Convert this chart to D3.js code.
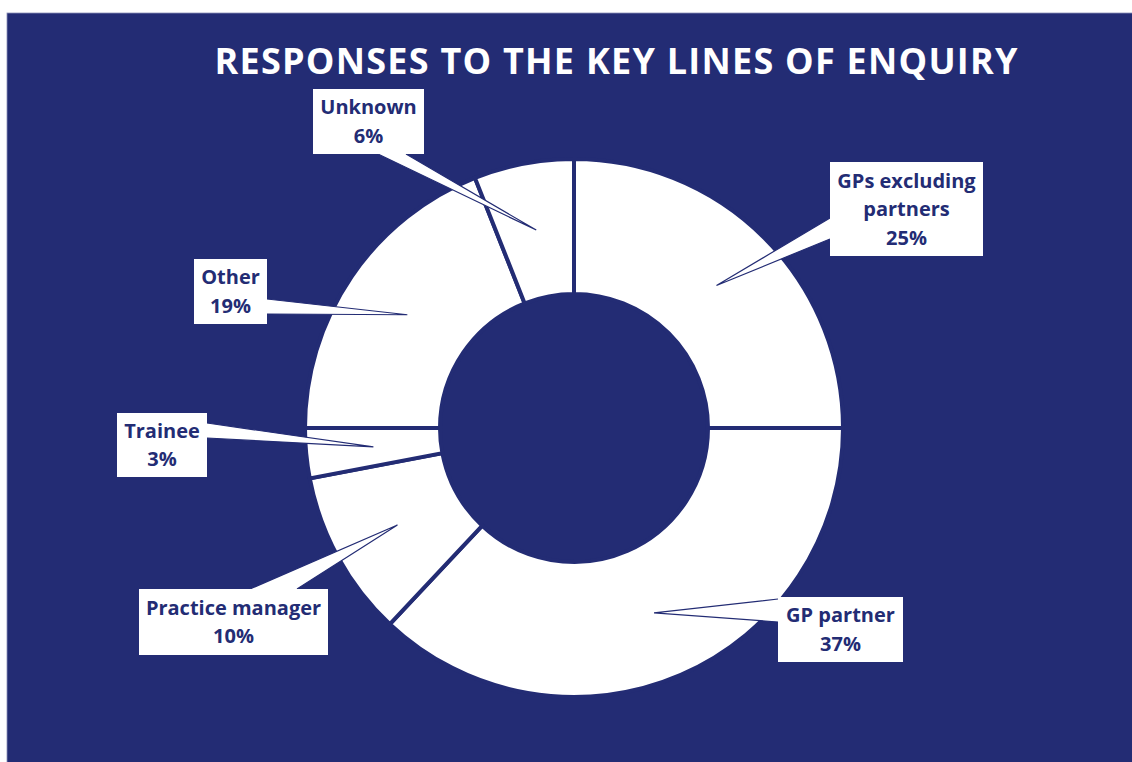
<!DOCTYPE html>
<html>
<head>
<meta charset="utf-8">
<script src="https://cdn.jsdelivr.net/npm/d3@7"></script>
<style>
  html, body { margin: 0; padding: 0; background: #ffffff; }
  svg { display: block; }
</style>
</head>
<body>
<svg id="chart" width="1132" height="762"></svg>
<script>
// ---- data ----
const title = "RESPONSES TO THE KEY LINES OF ENQUIRY";
const categories = ["GPs excluding partners", "GP partner", "Practice manager", "Trainee", "Other", "Unknown"];
const values = [25, 37, 10, 3, 19, 6];
const valueLabels = ["25%", "37%", "10%", "3%", "19%", "6%"];

// ---- layout (callout boxes; positions only) ----
const calloutBoxes = [
  { x: 830, y: 162, w: 153, h: 94, side: "left",   b0: 218, b1: 239 },
  { x: 778, y: 597, w: 125, h: 65, side: "left",   b0: 599, b1: 622 },
  { x: 139, y: 589, w: 189, h: 66, side: "top",    b0: 250, b1: 297 },
  { x: 117, y: 413, w: 90,  h: 64, side: "right",  b0: 423, b1: 438 },
  { x: 194, y: 259, w: 73,  h: 65, side: "right",  b0: 299, b1: 314 },
  { x: 313, y: 89,  w: 111, h: 65, side: "bottom", b0: 378, b1: 406 }
];

const navy = "#232c74";
const W = 1132, H = 762;
const cx = 574, cy = 428;
const rOuter = 269, rInner = 134;

const svg = d3.select("#chart");

// background panel
svg.append("rect").attr("x", 7).attr("y", 13).attr("width", W).attr("height", H)
  .attr("fill", navy).attr("stroke", "#8a90b8").attr("stroke-width", 0.8);

// title
svg.append("text")
  .attr("x", 616).attr("y", 74)
  .attr("text-anchor", "middle")
  .attr("font-family", "'Open Sans', sans-serif")
  .attr("font-weight", 700)
  .attr("font-size", 36)
  .attr("fill", "#ffffff")
  .attr("textLength", 803)
  .attr("lengthAdjust", "spacing")
  .text(title);

const data = categories.map((c, i) => ({ name: c, value: values[i], label: valueLabels[i], box: calloutBoxes[i] }));

const pie = d3.pie().value(d => d.value).sort(null).startAngle(0).endAngle(2 * Math.PI);
const arcs = pie(data);
const arc = d3.arc().innerRadius(rInner).outerRadius(rOuter);
const centroidArc = d3.arc().innerRadius(136).outerRadius(267);

const g = svg.append("g").attr("transform", `translate(${cx},${cy})`);
g.selectAll("path.slice").data(arcs).join("path")
  .attr("class", "slice")
  .attr("d", arc)
  .attr("fill", "#ffffff")
  .attr("stroke", navy)
  .attr("stroke-width", 4)
  .attr("stroke-linejoin", "miter");

// callouts
const cg = svg.append("g");
arcs.forEach(a => {
  const d = a.data, b = d.box;
  const c = centroidArc.centroid(a);
  const tip = [cx + c[0], cy + c[1]];
  let p0, p1;
  if (b.side === "left")   { p0 = [b.x, b.b0]; p1 = [b.x, b.b1]; }
  if (b.side === "right")  { p0 = [b.x + b.w, b.b0]; p1 = [b.x + b.w, b.b1]; }
  if (b.side === "top")    { p0 = [b.b0, b.y]; p1 = [b.b1, b.y]; }
  if (b.side === "bottom") { p0 = [b.b0, b.y + b.h]; p1 = [b.b1, b.y + b.h]; }

  cg.append("path")
    .attr("d", `M${p0[0]},${p0[1]}L${tip[0]},${tip[1]}L${p1[0]},${p1[1]}Z`)
    .attr("fill", "#ffffff");
  cg.append("path")
    .attr("d", `M${p0[0]},${p0[1]}L${tip[0]},${tip[1]}L${p1[0]},${p1[1]}`)
    .attr("fill", "none").attr("stroke", navy).attr("stroke-width", 1.2)
    .attr("stroke-linejoin", "miter");
  cg.append("rect")
    .attr("x", b.x).attr("y", b.y).attr("width", b.w).attr("height", b.h)
    .attr("fill", "#ffffff");

  // wrap label text to box width
  const fontSize = 20, lh = 28.5;
  const measure = cg.append("text").attr("font-family", "'Open Sans', sans-serif")
    .attr("font-weight", 700).attr("font-size", fontSize);
  const words = d.name.split(" ");
  const lines = [];
  let cur = "";
  words.forEach(w => {
    const test = cur ? cur + " " + w : w;
    measure.text(test);
    if (measure.node().getComputedTextLength() > b.w - 8 && cur) { lines.push(cur); cur = w; }
    else cur = test;
  });
  if (cur) lines.push(cur);
  measure.remove();
  lines.push(d.label);

  const midY = b.y + b.h / 2;
  const first = midY - (lines.length - 1) * lh / 2 + 7;
  const t = cg.append("text")
    .attr("font-family", "'Open Sans', sans-serif")
    .attr("font-weight", 700)
    .attr("font-size", fontSize)
    .attr("fill", navy)
    .attr("text-anchor", "middle");
  lines.forEach((ln, i) => {
    t.append("tspan").attr("x", b.x + b.w / 2).attr("y", first + i * lh).text(ln);
  });
});
</script>
</body>
</html>
